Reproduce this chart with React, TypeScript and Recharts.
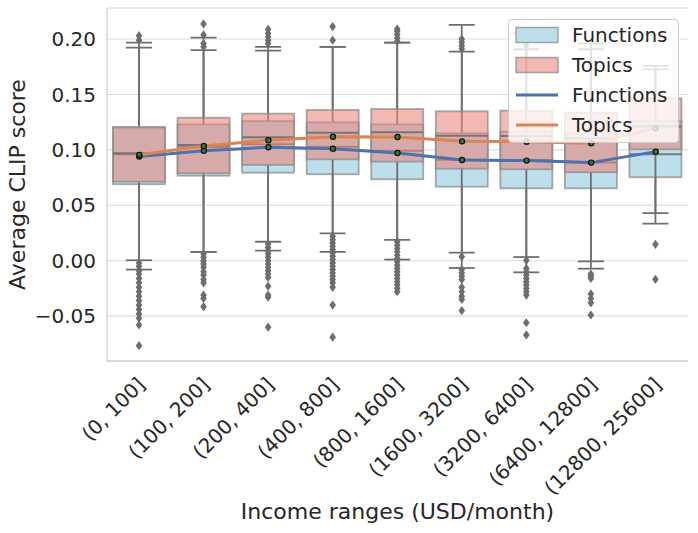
import { ComposedChart, Bar, Line, XAxis, YAxis, CartesianGrid, Legend, Label } from 'recharts';

const FONT = '"DejaVu Sans", Verdana, sans-serif';
const TEXT = '#262626';

const F_FILL = '#bcdfeb';
const T_FILL = '#e88278';
const T_ALPHA = 0.57;
const F_LINE = '#4c72b0';
const T_LINE = '#dd8452';

// income bins
const categories = [
  '(0, 100]', '(100, 200]', '(200, 400]', '(400, 800]', '(800, 1600]',
  '(1600, 3200]', '(3200, 6400]', '(6400, 12800]', '(12800, 25600]',
];

// Functions boxes
const fLow = [-0.008, 0.008, 0.009, 0.008, 0.001, -0.0066, -0.0105, -0.0072, 0.0334];
const fQ1 = [0.069, 0.0767, 0.0794, 0.078, 0.0735, 0.0668, 0.0653, 0.0653, 0.0753];
const fMed = [0.096, 0.1026, 0.105, 0.1029, 0.0993, 0.091, 0.0909, 0.0885, 0.096];
const fQ3 = [0.12, 0.123, 0.126, 0.1249, 0.123, 0.115, 0.1164, 0.115, 0.126];
const fHigh = [0.1922, 0.19, 0.1895, 0.193, 0.1968, 0.1886, 0.1908, 0.1908, 0.1727];
const fMean = [0.094, 0.0993, 0.1023, 0.1011, 0.0972, 0.0909, 0.0903, 0.0885, 0.0984];
const fOutliers = [
  [0.199, -0.002, -0.009, -0.016, -0.024, -0.032, -0.04, -0.048, -0.058, -0.0767],
  [0.2136, 0.196, 0.006, 0, -0.006, -0.013, -0.02, -0.034],
  [0.199, 0.205, 0.015, 0.009, 0.003, -0.003, -0.009, -0.015, -0.031, -0.06],
  [0.199, 0.022, 0.016, 0.01, 0.004, -0.002, -0.008, -0.014, -0.02, -0.04],
  [0.201, 0.207, 0.017, 0.011, 0.005, -0.001, -0.007, -0.013, -0.019, -0.025],
  [0.194, 0.2, -0.008, -0.014, -0.024, -0.032, -0.045],
  [0.194, -0.007, -0.013, -0.019, -0.025, -0.031, -0.067],
  [-0.012, -0.016, -0.034, -0.049],
  [-0.0168],
];

// Topics boxes
const tLow = [0.0004, 0.0079, 0.0171, 0.0247, 0.0187, 0.0072, 0.0033, -0.0006, 0.043];
const tQ1 = [0.0713, 0.0789, 0.0864, 0.0915, 0.0894, 0.083, 0.0825, 0.0798, 0.1005];
const tMed = [0.097, 0.1044, 0.1114, 0.1155, 0.1159, 0.1128, 0.1125, 0.1105, 0.121];
const tQ3 = [0.1207, 0.129, 0.1327, 0.136, 0.1369, 0.1348, 0.1354, 0.1336, 0.1466];
const tHigh = [0.1968, 0.2013, 0.193, 0.193, 0.1968, 0.2127, 0.2058, 0.196, 0.1757];
const tMean = [0.0955, 0.1035, 0.1087, 0.1119, 0.1116, 0.1077, 0.1074, 0.106, 0.1195];
const tOutliers = [
  [0.203, -0.005, -0.012, -0.02, -0.028, -0.036, -0.044, -0.052],
  [0.2037, 0.193, 0.003, -0.003, -0.01, -0.017, -0.031, -0.0415],
  [0.196, 0.202, 0.2088, 0.012, 0.006, 0, -0.006, -0.012, -0.023, -0.033],
  [0.2112, 0.019, 0.013, 0.007, 0.001, -0.005, -0.011, -0.017, -0.024, -0.069],
  [0.198, 0.204, 0.209, 0.014, 0.008, 0.002, -0.004, -0.01, -0.016, -0.022, -0.028],
  [0.191, 0.197, 0.0036, -0.011, -0.017, -0.028, -0.035],
  [0.205, 0.0003, -0.01, -0.016, -0.022, -0.028, -0.056],
  [-0.014, -0.03, -0.038],
  [0.0148],
];

const yTicks = [-0.05, 0, 0.05, 0.1, 0.15, 0.2];

const legendItems = [
  { name: 'Functions', kind: 'box', color: F_FILL, alpha: 1 },
  { name: 'Topics', kind: 'box', color: T_FILL, alpha: T_ALPHA },
  { name: 'Functions', kind: 'line', color: F_LINE, alpha: 1 },
  { name: 'Topics', kind: 'line', color: T_LINE, alpha: 1 },
];

const rows = categories.map((cat, i) => ({
  cat,
  fLow: fLow[i], fQ1: fQ1[i], fMed: fMed[i], fQ3: fQ3[i], fHigh: fHigh[i], fMean: fMean[i], fOut: fOutliers[i],
  tLow: tLow[i], tQ1: tQ1[i], tMed: tMed[i], tQ3: tQ3[i], tHigh: tHigh[i], tMean: tMean[i], tOut: tOutliers[i],
}));

const fmtY = (v: number) => (v < 0 ? '\u2212' + Math.abs(v).toFixed(2) : v.toFixed(2));

// box + whiskers + fliers, positioned from the bar's [low, high] pixel span
const makeBox = (p: 'f' | 't', fill: string, alpha: number) => (props: any) => {
  const { x, y, width, height, payload } = props;
  const lo = payload[p + 'Low'];
  const hi = payload[p + 'High'];
  const top = Math.min(y, y + height);
  const bottom = Math.max(y, y + height);
  const py = (v: number) => bottom - ((v - lo) / (hi - lo)) * (bottom - top);
  const cx = x + width / 2;
  const cap = width / 4;
  const q1 = py(payload[p + 'Q1']);
  const q3 = py(payload[p + 'Q3']);
  const med = py(payload[p + 'Med']);
  const outs: number[] = payload[p + 'Out'];
  return (
    <g>
      <line x1={cx} x2={cx} y1={top} y2={q3} stroke="#6f6f6f" strokeWidth={1.8} />
      <line x1={cx} x2={cx} y1={q1} y2={bottom} stroke="#6f6f6f" strokeWidth={1.8} />
      <line x1={cx - cap} x2={cx + cap} y1={top} y2={top} stroke="#6f6f6f" strokeWidth={1.8} />
      <line x1={cx - cap} x2={cx + cap} y1={bottom} y2={bottom} stroke="#6f6f6f" strokeWidth={1.8} />
      <rect x={x} y={q3} width={width} height={q1 - q3} fill={fill} fillOpacity={alpha}
        stroke="#8c8c8c" strokeOpacity={0.75} strokeWidth={1.8} />
      <line x1={x} x2={x + width} y1={med} y2={med} stroke="#6b6b6b" strokeOpacity={0.85} strokeWidth={2} />
      {outs.map((v, k) => {
        const oy = py(v);
        return (
          <polygon key={k} fill="#6d6d6d"
            points={`${cx},${oy - 4.6} ${cx + 3.3},${oy} ${cx},${oy + 4.6} ${cx - 3.3},${oy}`} />
        );
      })}
    </g>
  );
};

const MeanDot = (props: any) => (
  <circle key={props.index} cx={props.cx} cy={props.cy} r={2.6} fill="#2e7d32" stroke="#111" strokeWidth={1.2} />
);

const XTick = (props: any) => {
  const { x, y, payload } = props;
  const ax = x + 7;
  const ay = y + 25;
  return (
    <text x={ax} y={ay} textAnchor="end" transform={`rotate(-45, ${ax}, ${ay})`}
      fontSize={20} fill={TEXT} fontFamily={FONT}>
      {payload.value}
    </text>
  );
};

const LegendBox = () => (
  <div style={{
    width: 171, height: 124, boxSizing: 'border-box', background: 'rgba(255,255,255,0.8)',
    border: '1px solid #cccccc', borderRadius: 4,
  }}>
    <svg width={169} height={122} style={{ display: 'block' }}>
      {legendItems.map((it, i) => {
        const cy = 15 + i * 30;
        return (
          <g key={i}>
            {it.kind === 'box' ? (
              <rect x={7} y={cy - 7.5} width={42} height={15} fill={it.color} fillOpacity={it.alpha}
                stroke="#8c8c8c" strokeOpacity={0.75} strokeWidth={1.5} />
            ) : (
              <line x1={7} x2={49} y1={cy} y2={cy} stroke={it.color} strokeWidth={3} />
            )}
            <text x={63} y={cy + 7.3} fontSize={20} fill={TEXT} fontFamily={FONT}>{it.name}</text>
          </g>
        );
      })}
    </svg>
  </div>
);

export default function App() {
  return (
    <div style={{ position: 'absolute', left: 0, top: 0, width: 698, height: 533, background: '#fff' }}>
      <ComposedChart width={698} height={533} data={rows} margin={{ top: 8, right: 10, bottom: 0, left: 0 }}>
        <CartesianGrid xAxisId="f" vertical={false} stroke="#dcdcdc" strokeWidth={1.1} />
        <XAxis xAxisId="f" dataKey="cat" type="category" height={172} tickSize={0} tickMargin={0}
          tickLine={false} axisLine={{ stroke: '#cccccc', strokeWidth: 1.25 }} tick={<XTick />} interval={0}>
          <Label content={(p: any) => {
            const vb = p.viewBox || { x: 107, y: 361, width: 581 };
            return (
              <text x={vb.x + vb.width / 2} y={vb.y + 158} textAnchor="middle" fontSize={22}
                fill={TEXT} fontFamily={FONT}>Income ranges (USD/month)</text>
            );
          }} />
        </XAxis>
        <XAxis xAxisId="t" dataKey="cat" type="category" orientation="top" height={0} tick={false}
          tickLine={false} axisLine={{ stroke: '#cccccc', strokeWidth: 1.25 }} />
        <YAxis type="number" domain={[-0.0905, 0.228]} allowDataOverflow ticks={yTicks} width={107}
          tickFormatter={fmtY} tickSize={0} tickMargin={11} tickLine={false}
          axisLine={{ stroke: '#cccccc', strokeWidth: 1.25 }}
          tick={{ fontSize: 20, fill: TEXT, fontFamily: FONT }}>
          <Label content={(p: any) => {
            const vb = p.viewBox || { x: 0, y: 8, height: 353 };
            const lx = vb.x + 25;
            const ly = vb.y + vb.height / 2;
            return (
              <text x={lx} y={ly} transform={`rotate(-90, ${lx}, ${ly})`} textAnchor="middle" fontSize={22}
                fill={TEXT} fontFamily={FONT}>Average CLIP score</text>
            );
          }} />
        </YAxis>
        <YAxis yAxisId="r" orientation="right" type="number" domain={[-0.0905, 0.228]} width={0}
          tick={false} tickLine={false} axisLine={{ stroke: '#cccccc', strokeWidth: 1.25 }} />
        <Bar xAxisId="f" dataKey={(d: any) => [d.fLow, d.fHigh]} barSize={52} name="Functions"
          shape={makeBox('f', F_FILL, 1)} isAnimationActive={false} />
        <Bar xAxisId="t" dataKey={(d: any) => [d.tLow, d.tHigh]} barSize={52} name="Topics"
          shape={makeBox('t', T_FILL, T_ALPHA)} isAnimationActive={false} />
        <Line xAxisId="f" dataKey="fMean" name="Functions" stroke={F_LINE} strokeWidth={3}
          dot={MeanDot} activeDot={false} isAnimationActive={false} />
        <Line xAxisId="f" dataKey="tMean" name="Topics" stroke={T_LINE} strokeWidth={3}
          dot={MeanDot} activeDot={false} isAnimationActive={false} />
        <Legend layout="horizontal" verticalAlign="middle" align="center" content={<LegendBox />}
          wrapperStyle={{ left: 508, top: 19, width: 171, height: 124 }} />
      </ComposedChart>
    </div>
  );
}
